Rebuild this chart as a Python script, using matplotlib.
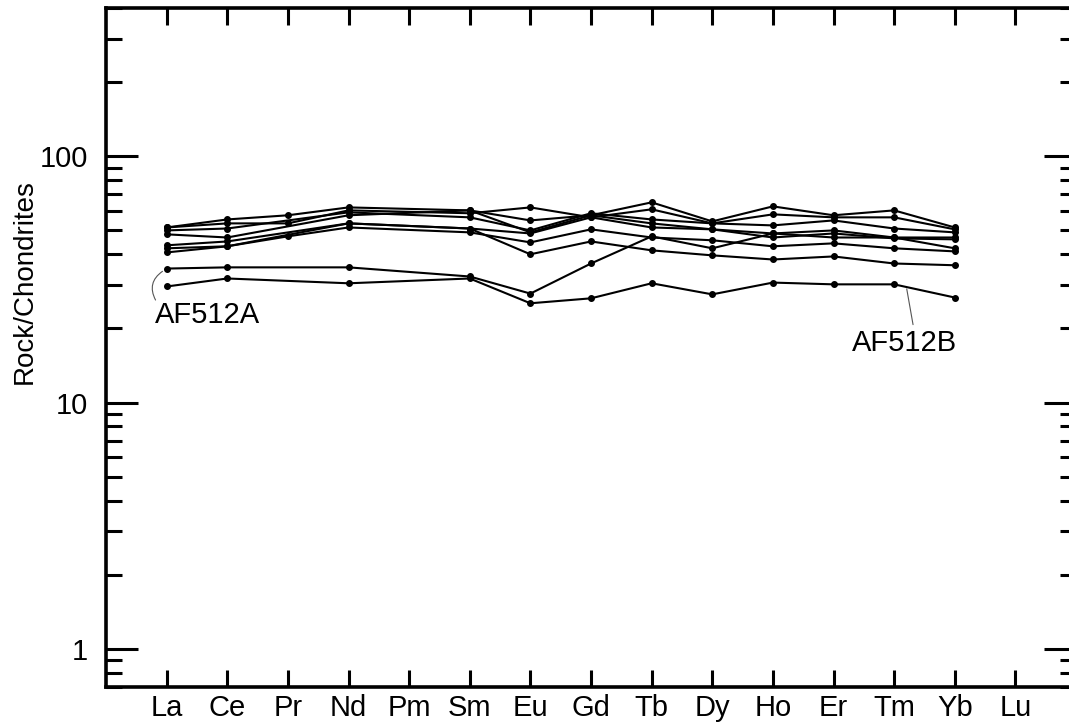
import numpy as np
import matplotlib.pyplot as plt
from matplotlib.ticker import FixedLocator, NullFormatter

plt.rcParams['font.family'] = ['Liberation Sans', 'DejaVu Sans']

# elements (chondrite-normalised REE), Pm and Lu not analysed
elements = ['La', 'Ce', 'Pr', 'Nd', 'Pm', 'Sm', 'Eu', 'Gd', 'Tb', 'Dy', 'Ho', 'Er', 'Tm', 'Yb', 'Lu']
nan = np.nan

s1 = [51.4, 55.4, 57.6, 62.0, nan, 60.3, 54.9, 57.6, 65.0, 54.4, 62.6, 57.6, 60.3, 51.4, nan]
s2 = [51.4, 53.4, 53.4, 60.3, nan, 58.7, 62.0, 56.5, 60.9, 53.4, 58.1, 56.5, 56.5, 50.5, nan]
s3 = [50.0, 50.9, nan, 59.2, nan, 56.5, 50.0, 58.7, 55.4, 53.4, 52.4, 54.9, 50.9, 49.1, nan]
s4 = [48.2, 46.8, nan, 57.6, nan, 60.3, 49.1, 57.6, 53.4, 50.5, 48.6, 50.0, 46.8, 46.8, nan]
s5 = [43.5, 45.1, nan, 53.4, nan, 50.9, 48.6, 56.5, 51.4, 50.5, 46.8, 48.6, 46.4, 46.0, nan]
s6 = [42.3, 43.1, 47.3, 51.4, nan, 49.1, 44.7, 50.5, 46.8, 45.6, 43.1, 44.3, 42.3, 41.1, nan]
s7 = [40.7, 43.1, nan, 53.4, nan, 50.9, 40.0, 45.1, 41.5, 39.6, 38.1, 39.2, 36.7, 36.1, nan]
af512a = [35.0, 35.4, nan, 35.4, nan, 32.5, 27.7, 36.7, 47.3, 42.3, 48.6, 46.8, 46.8, 42.3, nan]
af512b = [29.6, 31.9, nan, 30.5, nan, 31.9, 25.3, 26.5, 30.5, 27.5, 30.7, 30.2, 30.2, 26.7, nan]

samples = [s1, s2, s3, s4, s5, s6, s7, af512a, af512b]

x = np.arange(1, len(elements) + 1)

fig = plt.figure(figsize=(10.69, 7.27), dpi=100)
ax = fig.add_axes([106 / 1069, 40 / 727, 970 / 1069, 679 / 727])

for s in samples:
    v = np.array(s)
    m = ~np.isnan(v)
    ax.plot(x[m], v[m], color='black', lw=1.5, marker='o', ms=4)

ax.set_yscale('log')
ax.set_ylim(0.7, 400)
ax.set_xlim(0, 16)

ax.set_xticks(x)
ax.set_xticklabels(elements)
ax.yaxis.set_major_locator(FixedLocator([1, 10, 100]))
ax.set_yticklabels(['1', '10', '100'])
minors = [m * 10.0 ** d for d in (-1, 0, 1, 2) for m in range(2, 10)]
ax.yaxis.set_minor_locator(FixedLocator(minors))
ax.yaxis.set_minor_formatter(NullFormatter())
ax.xaxis.set_minor_locator(FixedLocator([]))

ax.tick_params(axis='x', which='major', direction='in', length=12.5, width=2.2,
               top=True, bottom=True, labelsize=21, pad=5)
ax.tick_params(axis='y', which='major', direction='in', length=23, width=2.2,
               left=True, right=True, labelsize=21, pad=13)
ax.tick_params(axis='y', which='minor', direction='in', length=11.5, width=2.2,
               left=True, right=True)
for sp in ax.spines.values():
    sp.set_linewidth(2.6)

fig.text(25 / 1069, 1 - 282 / 727, 'Rock/Chondrites', rotation=90,
         ha='center', va='center', fontsize=20)

# sample labels with leader lines
ax.annotate('', xy=(0.97, 34.6), xytext=(0.84, 25.5),
            arrowprops=dict(arrowstyle='-', color='#555555', lw=0.8,
                            connectionstyle='arc3,rad=-0.5'))
ax.text(0.81, 22.6, 'AF512A', ha='left', va='center', fontsize=21)

ax.annotate('', xy=(13.2, 29.7), xytext=(13.32, 20.2),
            arrowprops=dict(arrowstyle='-', color='#555555', lw=0.8))
ax.text(13.17, 17.4, 'AF512B', ha='center', va='center', fontsize=21)

plt.savefig('out.png', dpi=100)
